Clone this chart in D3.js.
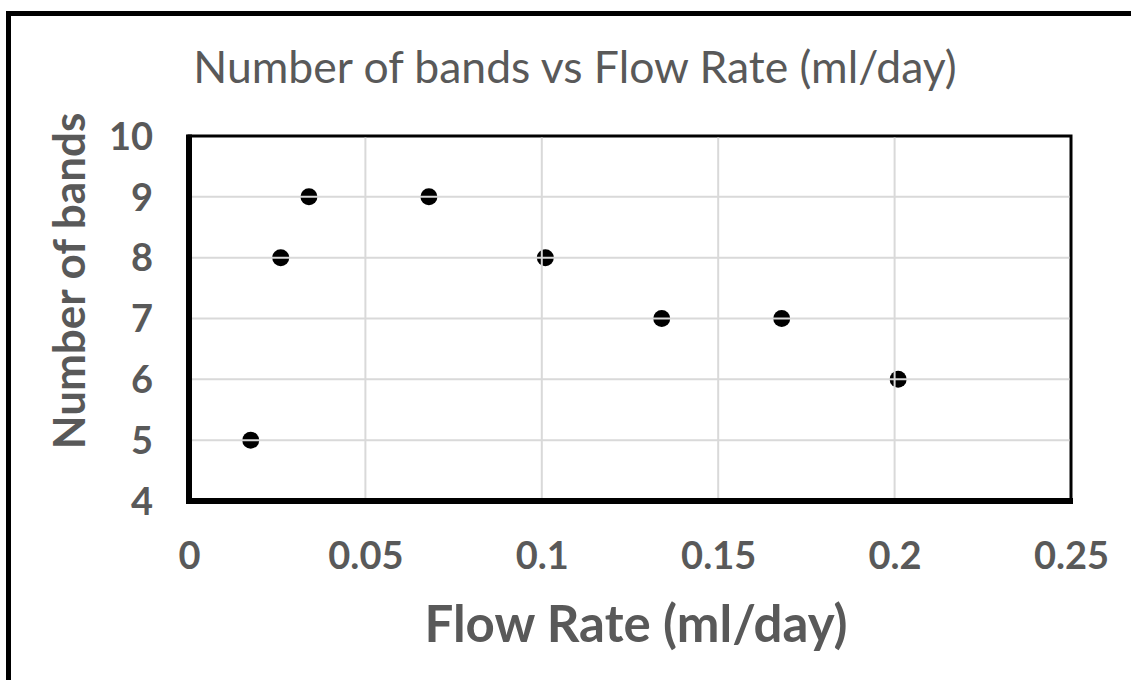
<!DOCTYPE html>
<html>
<head>
<meta charset="utf-8">
<script src="https://cdn.jsdelivr.net/npm/d3@7"></script>
<style>
  body { margin: 0; background: #fff; }
  text { font-family: Lato, "Open Sans", sans-serif; fill: #595959; }
</style>
</head>
<body>
<div id="chart"></div>
<script>
// data
var flowRate = [0.0175, 0.026, 0.034, 0.068, 0.101, 0.134, 0.168, 0.201];
var bands = [5, 8, 9, 9, 8, 7, 7, 6];
var xTicks = [0, 0.05, 0.1, 0.15, 0.2, 0.25];
var yTicks = [4, 5, 6, 7, 8, 9, 10];

var width = 1131, height = 680;
var plotLeft = 189, plotRight = 1071, plotTop = 136, plotBottom = 501;

var svg = d3.select("#chart").append("svg")
    .attr("width", width)
    .attr("height", height);

// outer frame (runs off the right and bottom edge)
svg.append("rect")
    .attr("x", 8.5).attr("y", 13.5)
    .attr("width", 1140).attr("height", 700)
    .attr("fill", "none")
    .attr("stroke", "#000")
    .attr("stroke-width", 5);

var x = d3.scaleLinear().domain([0, 0.25]).range([plotLeft, plotRight]);
var y = d3.scaleLinear().domain([4, 10]).range([plotBottom, plotTop]);

// plot border
svg.append("rect")
    .attr("x", plotLeft).attr("y", plotTop)
    .attr("width", plotRight - plotLeft).attr("height", plotBottom - plotTop)
    .attr("fill", "none")
    .attr("stroke", "#000")
    .attr("stroke-width", 3);

// points
svg.selectAll("circle.pt")
    .data(flowRate)
    .enter().append("circle")
    .attr("class", "pt")
    .attr("cx", d => x(d))
    .attr("cy", (d, i) => y(bands[i]))
    .attr("r", 8.5)
    .attr("fill", "#000");

// gridlines sit on top of the markers in the original
svg.selectAll("line.gx")
    .data(xTicks.slice(1, -1))
    .enter().append("line")
    .attr("x1", d => x(d)).attr("x2", d => x(d))
    .attr("y1", plotTop + 1.5).attr("y2", plotBottom - 3)
    .attr("stroke", "#d9d9d9")
    .attr("stroke-width", 2);

svg.selectAll("line.gy")
    .data(yTicks.slice(1, -1))
    .enter().append("line")
    .attr("x1", plotLeft + 3).attr("x2", plotRight - 1.5)
    .attr("y1", d => y(d)).attr("y2", d => y(d))
    .attr("stroke", "#d9d9d9")
    .attr("stroke-width", 2);

// axis lines
svg.append("line")
    .attr("x1", plotLeft).attr("x2", plotLeft)
    .attr("y1", plotTop - 1.5).attr("y2", plotBottom + 3)
    .attr("stroke", "#000").attr("stroke-width", 6);
svg.append("line")
    .attr("x1", plotLeft - 3).attr("x2", plotRight + 2)
    .attr("y1", plotBottom).attr("y2", plotBottom)
    .attr("stroke", "#000").attr("stroke-width", 6);

// tick labels
var xAxis = d3.axisBottom(x).tickValues(xTicks).tickSize(0).tickPadding(0)
    .tickFormat(d => String(d));
var gx = svg.append("g")
    .attr("transform", "translate(0," + 569 + ")")
    .call(xAxis);
gx.select(".domain").remove();
gx.selectAll("text")
    .attr("dy", 0)
    .attr("y", 0)
    .style("font-size", "38px")
    .style("font-weight", "bold")
    .style("font-family", "Lato, sans-serif")
    .style("fill", "#595959");

var yAxis = d3.axisLeft(y).tickValues(yTicks).tickSize(0).tickPadding(0)
    .tickFormat(d3.format("d"));
var gy = svg.append("g")
    .attr("transform", "translate(" + 153 + ",0)")
    .call(yAxis);
gy.select(".domain").remove();
gy.selectAll("text")
    .attr("dy", "0.35em")
    .style("font-size", "38px")
    .style("font-weight", "bold")
    .style("font-family", "Lato, sans-serif")
    .style("fill", "#595959");

// titles
svg.append("text")
    .attr("x", 575)
    .attr("y", 83)
    .attr("text-anchor", "middle")
    .style("font-size", "44.5px")
    .text("Number of bands vs Flow Rate (ml/day)");

svg.append("text")
    .attr("x", 636)
    .attr("y", 642)
    .attr("text-anchor", "middle")
    .style("font-size", "51px")
    .style("font-weight", "bold")
    .text("Flow Rate (ml/day)");

svg.append("text")
    .attr("transform", "translate(85,281) rotate(-90)")
    .attr("text-anchor", "middle")
    .style("font-size", "44px")
    .style("font-weight", "bold")
    .text("Number of bands");
</script>
</body>
</html>
